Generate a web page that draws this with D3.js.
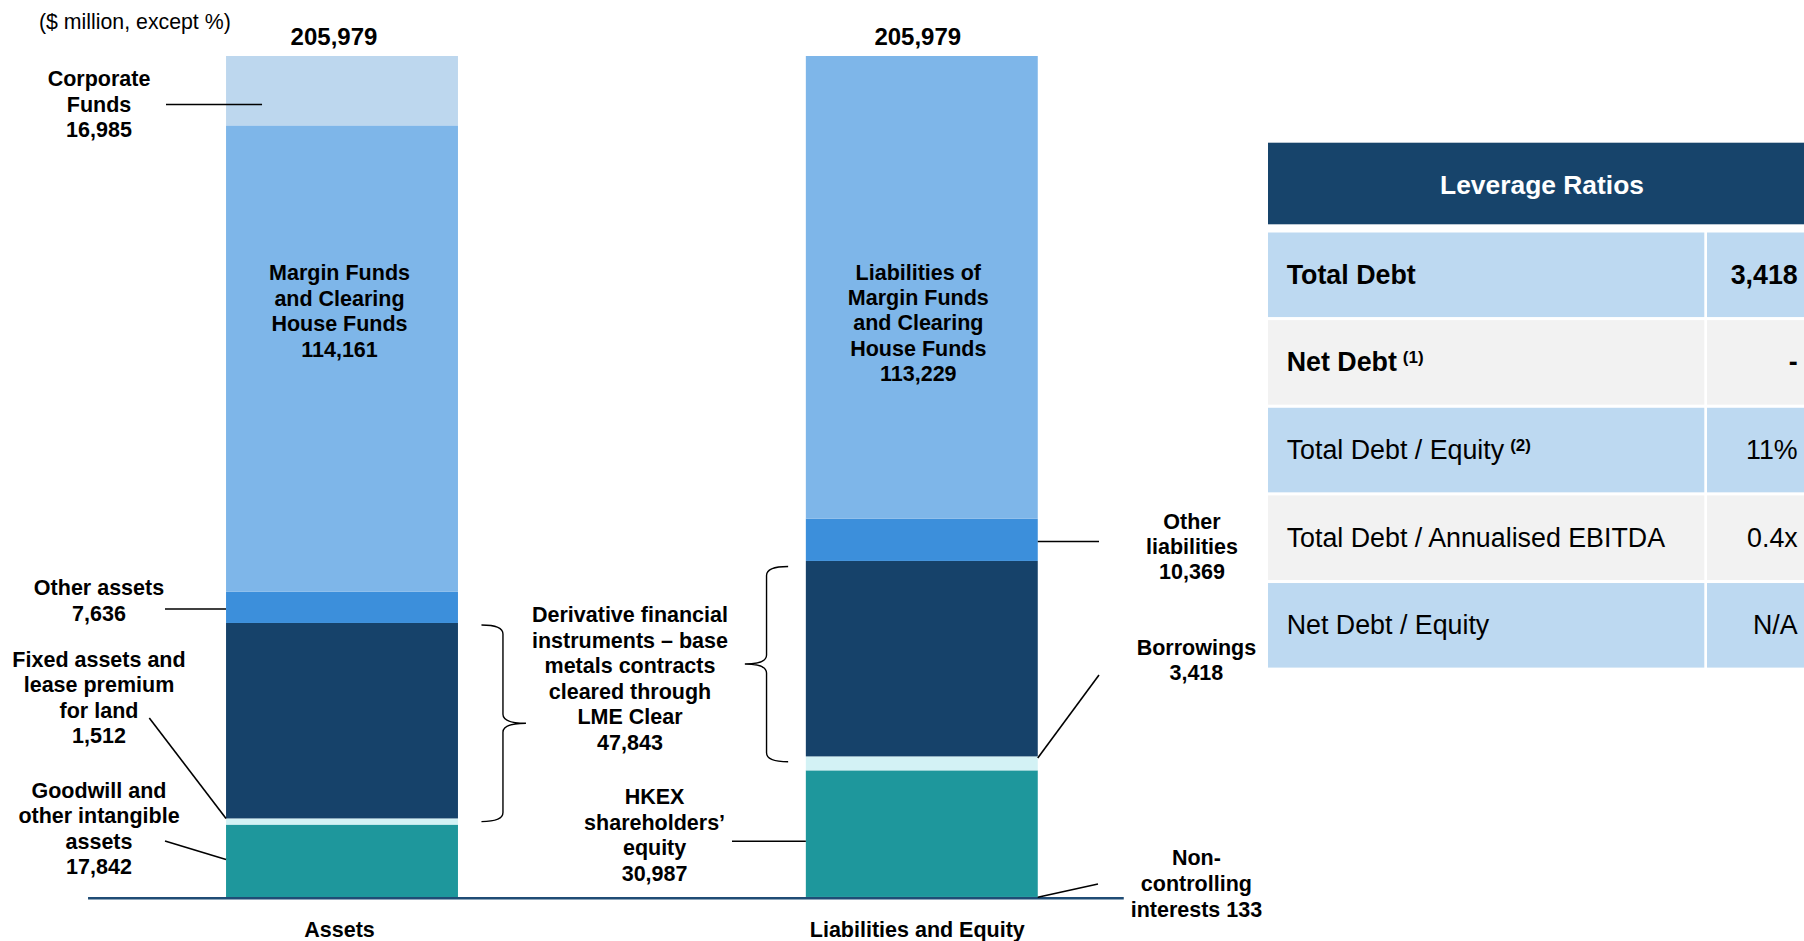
<!DOCTYPE html>
<html>
<head>
<meta charset="utf-8">
<script src="https://cdn.jsdelivr.net/npm/d3@7"></script>
<style>
  html, body { margin: 0; padding: 0; background: #ffffff; }
  svg { display: block; font-family: "Liberation Sans", Arial, Helvetica, sans-serif; }
</style>
</head>
<body>
<svg id="chart" width="1804" height="941"></svg>
<script>
// ---------------- DATA ----------------
const categories = ["Assets", "Liabilities and Equity"];
const totals = [205979, 205979];

const assetItems = [
  "Goodwill and other intangible assets",
  "Fixed assets and lease premium for land",
  "Derivative financial instruments – base metals contracts cleared through LME Clear",
  "Other assets",
  "Margin Funds and Clearing House Funds",
  "Corporate Funds"
];
const assetValues = [17842, 1512, 47843, 7636, 114161, 16985];

const liabItems = [
  "Non-controlling interests",
  "HKEX shareholders’ equity",
  "Borrowings",
  "Derivative financial instruments – base metals contracts cleared through LME Clear",
  "Other liabilities",
  "Liabilities of Margin Funds and Clearing House Funds"
];
const liabValues = [133, 30987, 3418, 47843, 10369, 113229];

const ratioLabels = ["Total Debt", "Net Debt", "Total Debt / Equity", "Total Debt / Annualised EBITDA", "Net Debt / Equity"];
const ratioNotes = ["", "(1)", "(2)", "", ""];
const ratioValues = ["3,418", "-", "11%", "0.4x", "N/A"];
const ratioBold = [true, true, false, false, false];
const tableTitle = "Leverage Ratios";
const unitNote = "($ million, except %)";

// ---------------- STYLE ----------------
const assetColors = ["#1E979C", "#D3F2F5", "#16426A", "#3C8FDB", "#7EB6E9", "#BDD7EE"];
const liabColors  = ["#1E979C", "#1E979C", "#D3F2F5", "#16426A", "#3C8FDB", "#7EB6E9"];
const FONT_LBL = 21.5, LH = 25.5, FONT_TBL = 26.8;

const svg = d3.select("#chart");
const fmt = d3.format(",");

// ---------------- SCALES ----------------
const x = d3.scaleBand().domain(categories).range([52.1, 1211.7]).paddingInner(0.6).paddingOuter(0.3);
const y = d3.scaleLinear().domain([0, d3.max(totals)]).range([897.5, 56]);

function segments(values, colors, items, cat) {
  const cum = d3.cumsum(values);
  return values.map((v, i) => ({ cat, item: items[i], value: v, y0: cum[i] - v, y1: cum[i], color: colors[i], i }));
}
const segA = segments(assetValues, assetColors, assetItems, categories[0]);
const segL = segments(liabValues, liabColors, liabItems, categories[1]);
const allSeg = segA.concat(segL);

// ---------------- BARS ----------------
svg.append("g").selectAll("rect").data(allSeg).join("rect")
  .attr("x", d => x(d.cat))
  .attr("width", x.bandwidth())
  .attr("y", d => y(d.y1))
  .attr("height", d => y(d.y0) - y(d.y1))
  .attr("fill", d => d.color);

// baseline
svg.append("line")
  .attr("x1", x(categories[0]) - 138).attr("x2", x(categories[1]) + x.bandwidth() + 86)
  .attr("y1", y(0) + 0.8).attr("y2", y(0) + 0.8)
  .attr("stroke", "#1F4C75").attr("stroke-width", 2.6);

// category axis
const axis = svg.append("g").attr("transform", `translate(0,${y(0) + 0.5})`)
  .call(d3.axisBottom(x).tickSize(0).tickPadding(24));
axis.select(".domain").remove();
axis.selectAll(".tick").attr("transform", (d, i) => `translate(${x(d) + x.bandwidth() / 2 - (i === 0 ? 2.5 : 4.5)},0)`);
axis.selectAll("text").attr("font-family", "Liberation Sans, Arial, sans-serif")
  .attr("font-size", FONT_LBL).attr("font-weight", "bold").attr("fill", "#000");

// totals
svg.append("g").selectAll("text").data(categories).join("text")
  .attr("x", (d, i) => x(d) + x.bandwidth() / 2 - (i === 0 ? 8 : 4))
  .attr("y", y(totals[0]) - 11)
  .attr("text-anchor", "middle").attr("font-size", 24).attr("font-weight", "bold")
  .text((d, i) => fmt(totals[i]));

// unit note
svg.append("text").attr("x", 39).attr("y", 28.5).attr("font-size", 21.3).attr("fill", "#000").text(unitNote);

// ---------------- ANNOTATIONS ----------------
function multiline(cx, y0, lines, lh) {
  const t = svg.append("text").attr("text-anchor", "middle").attr("font-size", FONT_LBL).attr("font-weight", "bold").attr("fill", "#000");
  lines.forEach((l, k) => t.append("tspan").attr("x", cx).attr("y", y0 + k * (lh || LH)).text(l));
}
function segY(seg, frac) { return y(seg.y0 + (seg.y1 - seg.y0) * frac); }
function leader(x1, y1, x2, y2) {
  svg.append("line").attr("x1", x1).attr("y1", y1).attr("x2", x2).attr("y2", y2)
    .attr("stroke", "#000").attr("stroke-width", 1.6);
}
const aL = x(categories[0]), aR = aL + x.bandwidth(), aC = aL + x.bandwidth() / 2;
const lL = x(categories[1]), lR = lL + x.bandwidth(), lC = lL + x.bandwidth() / 2;

// Corporate Funds
multiline(99, 86, ["Corporate", "Funds", fmt(assetValues[5])]);
{ const yy = segY(segA[5], 0.3); leader(166, yy, aL + 36, yy); }
// Margin funds (inside)
multiline(aC - 2.5, 280, ["Margin Funds", "and Clearing", "House Funds", fmt(assetValues[4])], 25.5);
// Other assets
multiline(99, 595, ["Other assets", fmt(assetValues[3])]);
{ const yy = segY(segA[3], 0.45); leader(165, yy, aL, yy); }
// Fixed assets
multiline(99, 666.7, ["Fixed assets and", "lease premium", "for land", fmt(assetValues[1])]);
leader(149.3, 718, aL, segY(segA[1], 1));
// Goodwill
multiline(99, 797.7, ["Goodwill and", "other intangible", "assets", fmt(assetValues[0])]);
leader(165, 841, aL, segY(segA[0], 0.52));

// Derivative (shared)
multiline(630, 622.3, ["Derivative financial", "instruments – base", "metals contracts", "cleared through", "LME Clear", fmt(assetValues[2])]);

// Liabilities of margin funds (inside)
multiline(lC - 3.5, 280, ["Liabilities of", "Margin Funds", "and Clearing", "House Funds", fmt(liabValues[5])], 25.2);
// HKEX equity
multiline(654.6, 804, ["HKEX", "shareholders’", "equity", fmt(liabValues[1])]);
{ const yy = segY(segL[1], 0.44); leader(732, yy, lL, yy); }
// Other liabilities
multiline(1192, 529.3, ["Other", "liabilities", fmt(liabValues[4])], 25);
{ const yy = segY(segL[4], 0.46); leader(lR, yy, 1099, yy); }
// Borrowings
multiline(1196.4, 655, ["Borrowings", fmt(liabValues[2])], 25);
leader(1099, 675, lR, segY(segL[2], 0.88));
// Non-controlling
multiline(1196.4, 865, ["Non-", "controlling", "interests " + fmt(liabValues[0])], 25.8);
leader(1098, 884, lR, segY(segL[0], 0.5));

// Braces
function brace(x0, xv, xt, yt, yb) {
  const ym = (yt + yb) / 2, r = 9;
  const p = d3.path();
  p.moveTo(x0, yt);
  p.quadraticCurveTo(xv, yt, xv, yt + r);
  p.lineTo(xv, ym - r);
  p.quadraticCurveTo(xv, ym, xt, ym);
  p.quadraticCurveTo(xv, ym, xv, ym + r);
  p.lineTo(xv, yb - r);
  p.quadraticCurveTo(xv, yb, x0, yb);
  svg.append("path").attr("d", p.toString()).attr("fill", "none").attr("stroke", "#000").attr("stroke-width", 1.4);
}
brace(aR + 23.5, aR + 45, aR + 68, y(segA[2].y1) + 2, y(segA[1].y0) - 3);
brace(lL - 17.7, lL - 39.3, lL - 61, y(segL[3].y1) + 5.5, y(segL[3].y0) + 5.3);

// ---------------- TABLE ----------------
const T = { x0: 1268, x1: 1804, split: 1704.3, gap: 2.7 };
const tg = svg.append("g");
tg.append("rect").attr("x", T.x0).attr("y", 142.7).attr("width", T.x1 - T.x0).attr("height", 81.6).attr("fill", "#17446B");
tg.append("text").attr("x", 1542).attr("y", 194).attr("text-anchor", "middle")
  .attr("font-size", 26.4).attr("font-weight", "bold").attr("fill", "#ffffff").text(tableTitle);

const rows = d3.scaleBand().domain(ratioLabels).range([232.5, 667.6]).paddingInner(0.035);
const rowFill = (d, i) => (i % 2 === 0 ? "#BDD9F1" : "#F2F2F2");
tg.selectAll("rect.lab").data(ratioLabels).join("rect").attr("class", "lab")
  .attr("x", T.x0).attr("width", T.split - T.x0)
  .attr("y", d => rows(d)).attr("height", rows.bandwidth()).attr("fill", rowFill);
tg.selectAll("rect.val").data(ratioLabels).join("rect").attr("class", "val")
  .attr("x", T.split + T.gap).attr("width", T.x1 - T.split - T.gap)
  .attr("y", d => rows(d)).attr("height", rows.bandwidth()).attr("fill", rowFill);

ratioLabels.forEach((lab, i) => {
  const by = rows(lab) + rows.bandwidth() / 2 + 9;
  const t = tg.append("text").attr("x", 1286.7).attr("y", by).attr("font-size", FONT_TBL)
    .attr("font-weight", ratioBold[i] ? "bold" : "normal").attr("fill", "#000").text(lab);
  if (ratioNotes[i]) {
    t.append("tspan").attr("dx", 6).attr("dy", -8).attr("font-size", 17).attr("font-weight", "bold").text(ratioNotes[i]);
  }
  tg.append("text").attr("x", 1797.7).attr("y", by).attr("text-anchor", "end").attr("font-size", FONT_TBL)
    .attr("font-weight", ratioBold[i] ? "bold" : "normal").attr("fill", "#000").text(ratioValues[i]);
});
</script>
</body>
</html>
